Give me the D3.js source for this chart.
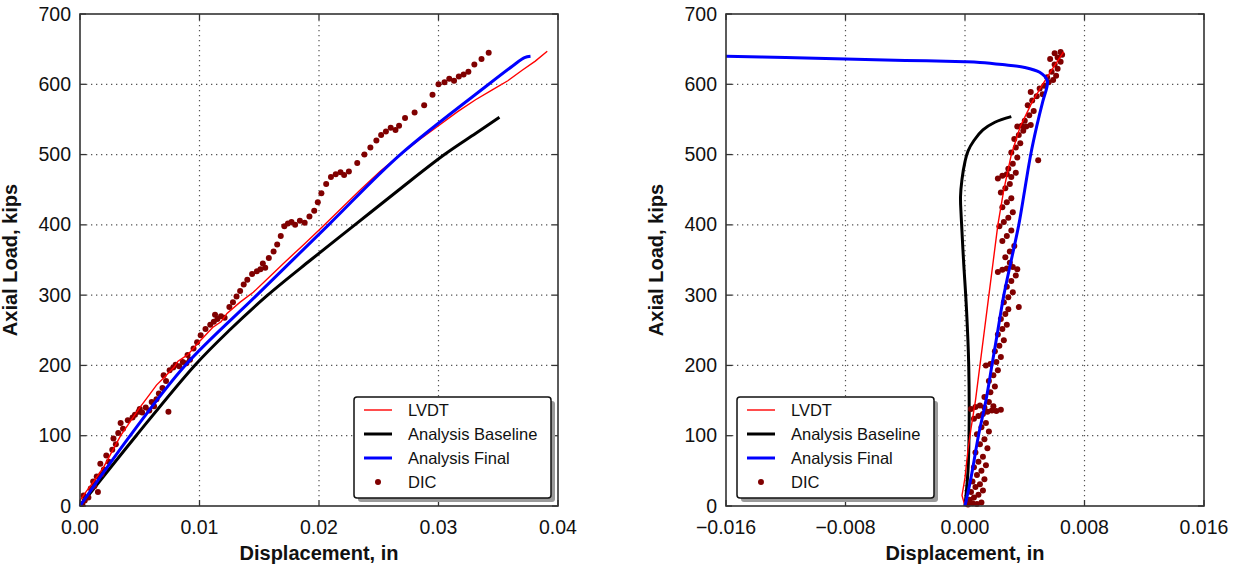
<!DOCTYPE html>
<html lang="en">
  <head>
    <meta charset="utf-8" />
    <title>Axial load vs displacement</title>
    <script src="https://cdnjs.cloudflare.com/ajax/libs/d3/7.8.5/d3.min.js"></script>
    <style>
      body { margin: 0; background: #fff; }
      svg { font-family: "Liberation Sans", Arial, sans-serif; }
      .grid line { stroke: #555; stroke-width: 1.2; stroke-dasharray: 1.3, 3.7; }
      .tick-lbl { font-size: 19.5px; fill: #111; }
      .axis-title { font-size: 20px; font-weight: bold; fill: #111; }
      .legend text { font-size: 16.5px; fill: #111; }
    </style>
  </head>
  <body>
    <script>
      // ---- data (displacement in inches, axial load in kips) ----
      const yTicks = [0, 100, 200, 300, 400, 500, 600, 700];
      const leftXTicks = [0, 0.01, 0.02, 0.03, 0.04];
      const rightXTicks = [-0.016, -0.008, 0, 0.008, 0.016];
      const seriesNames = ["LVDT", "Analysis Baseline", "Analysis Final", "DIC"];

      const leftLVDT = [[0,8],[0.0005,20],[0.0012,36],[0.0020,56],[0.0027,78],[0.0034,100],[0.0042,120],[0.0050,140],
        [0.0058,158],[0.0064,172],[0.0071,184],[0.0079,198],[0.0082,206],[0.0090,215],[0.0100,234],[0.0111,254],
        [0.0118,262],[0.0123,274],[0.0134,290],[0.0145,304],[0.0158,325],[0.0172,348],[0.0188,373],[0.0204,399],
        [0.0219,424],[0.0234,449],[0.0251,476],[0.0268,500],[0.0284,521],[0.0300,541],[0.0316,561],[0.0331,578],
        [0.0345,592],[0.0358,605],[0.0370,620],[0.0381,633],[0.0391,647]];
      const leftBaseline = [[0,0],[0.0047,100],[0.0096,200],[0.0125,250],[0.0157,300],[0.0193,350],[0.0230,400],
        [0.0267,450],[0.0305,500],[0.0331,530],[0.0351,553]];
      const leftFinal = [[0,0],[0.0042,100],[0.0088,200],[0.0148,300],[0.0208,400],[0.0268,500],[0.0342,600],
        [0.0362,626],[0.0372,638],[0.0377,640]];
      const leftDIC = [[0.0002,3],[0.0004,8],[0.0003,15],[0.0007,12],[0.0009,25],[0.0012,28],[0.0015,20],[0.0011,35],
        [0.0014,42],[0.0018,45],[0.0020,52],[0.0017,60],[0.0024,63],[0.0022,72],[0.0027,80],[0.0030,88],[0.0028,96],
        [0.0032,104],[0.0036,110],[0.0034,118],[0.0040,122],[0.0044,126],[0.0046,130],[0.0049,134],[0.0052,133],
        [0.0050,138],[0.0055,140],[0.0058,136],[0.0062,142],[0.0060,148],[0.0064,152],[0.0074,134],[0.0066,160],
        [0.0069,168],[0.0072,178],[0.0070,186],[0.0075,193],[0.0078,197],[0.0080,201],[0.0083,199],[0.0086,205],
        [0.0089,203],[0.0092,208],[0.0090,215],[0.0095,224],[0.0098,233],[0.0101,243],[0.0105,252],[0.0109,258],
        [0.0112,262],[0.0115,266],[0.0118,270],[0.0121,268],[0.0113,272],[0.0125,283],[0.0128,290],[0.0131,298],
        [0.0134,306],[0.0137,315],[0.0140,322],[0.0144,330],[0.0148,334],[0.0151,337],[0.0155,339],[0.0153,345],
        [0.0158,353],[0.0162,362],[0.0165,372],[0.0168,384],[0.0171,398],[0.0174,402],[0.0177,404],[0.0180,400],
        [0.0184,406],[0.0188,403],[0.0192,412],[0.0196,420],[0.0199,432],[0.0202,445],[0.0206,458],[0.0210,468],
        [0.0214,472],[0.0218,475],[0.0221,471],[0.0225,476],[0.0232,488],[0.0238,500],[0.0243,510],[0.0248,520],
        [0.0252,528],[0.0256,533],[0.0260,538],[0.0264,535],[0.0267,541],[0.0272,552],[0.0280,560],[0.0288,570],
        [0.0295,585],[0.0300,600],[0.0305,603],[0.0309,608],[0.0313,605],[0.0317,611],[0.0321,614],[0.0325,618],
        [0.0330,628],[0.0336,636],[0.0342,645]];

      const rightLVDT = [[0,0],[-0.0002,15],[0,40],[0.0002,80],[0.0004,110],[0.0007,150],[0.0010,200],[0.0013,250],
        [0.0016,300],[0.0019,350],[0.0022,400],[0.0026,450],[0.0031,500],[0.0037,540],[0.0045,575],[0.0052,600],
        [0.0058,620],[0.0066,646]];
      const rightBaseline = [[0,0],[0.0002,50],[0.00027,100],[0.00025,200],[0.0001,280],[-0.0001,350],[-0.00025,410],
        [-0.0003,440],[-0.0002,465],[0,490],[0.0002,505],[0.0006,520],[0.0012,535],[0.0020,546],[0.0031,554]];
      const rightFinal = [[0,0],[0.0004,40],[0.0009,100],[0.0014,150],[0.0018,200],[0.0022,250],[0.0026,300],
        [0.0031,350],[0.0036,400],[0.0040,450],[0.0044,500],[0.0048,540],[0.0052,575],[0.0055,598],[0.0055,606],
        [0.0050,617],[0.0040,624],[0.0025,628],[0.0010,631],[0,632],[-0.004,634],[-0.008,636],[-0.012,638],[-0.016,640]];
      const rightDIC = [[0.0002,2],[0.0005,4],[0.0008,3],[0.0011,5],[0.0003,9],[0.0006,12],[0.0009,16],[0.0004,20],
        [0.0012,22],[0.0007,27],[0.0010,31],[0.0005,35],[0.0013,38],[0.0008,44],[0.0011,50],[0.0006,55],[0.0014,58],
        [0.0009,63],[0.0012,70],[0.0007,76],[0.0015,82],[0.0010,88],[0.0013,95],[0.0008,102],[0.0016,106],[0.0011,112],
        [0.0014,118],[0.0006,124],[0.0009,128],[0.0012,131],[0.0015,134],[0.0018,136],[0.0021,135],[0.0024,137],
        [0.0004,138],[0.0007,141],[0.0010,143],[0.0013,140],[0.0019,142],[0.0016,148],[0.0013,155],[0.0017,162],
        [0.0020,170],[0.0016,178],[0.0019,186],[0.0022,193],[0.0014,200],[0.0017,202],[0.0021,205],[0.0024,212],
        [0.0020,220],[0.0023,228],[0.0026,236],[0.0022,244],[0.0025,252],[0.0028,258],[0.0024,266],[0.0027,273],
        [0.0036,283],[0.0029,280],[0.0026,290],[0.0029,297],[0.0032,304],[0.0028,312],[0.0031,320],[0.0034,328],
        [0.0022,333],[0.0025,336],[0.0028,338],[0.0032,340],[0.0035,337],[0.0030,346],[0.0027,354],[0.0030,362],
        [0.0033,370],[0.0025,377],[0.0028,384],[0.0031,392],[0.0023,398],[0.0026,404],[0.0029,410],[0.0032,418],
        [0.0025,425],[0.0028,432],[0.0031,438],[0.0024,446],[0.0027,452],[0.0030,458],[0.0022,466],[0.0025,470],
        [0.0028,472],[0.0031,468],[0.0034,474],[0.0029,480],[0.0032,487],[0.0049,492],[0.0035,496],[0.0031,503],
        [0.0034,510],[0.0037,516],[0.0033,522],[0.0036,528],[0.0039,534],[0.0035,540],[0.0038,541],[0.0041,540],
        [0.0044,542],[0.0040,548],[0.0043,556],[0.0046,562],[0.0042,570],[0.0045,577],[0.0048,583],[0.0044,589],
        [0.0052,586],[0.0050,594],[0.0053,598],[0.0056,603],[0.0059,606],[0.0055,610],[0.0061,612],[0.0058,618],
        [0.0062,622],[0.0060,628],[0.0064,632],[0.0057,636],[0.0062,638],[0.0065,642],[0.0060,644],[0.0064,646]];

      const width = 1237;
      const height = 567;
      const plotTop = 14, plotBottom = 506;

      const svg = d3.select("body").append("svg")
        .attr("width", width)
        .attr("height", height)
        .attr("viewBox", [0, 0, width, height]);

      function drawPanel(p) {
        const x = d3.scaleLinear().domain(p.xDomain).range([p.left, p.right]);
        const y = d3.scaleLinear().domain([0, 700]).range([plotBottom, plotTop]);
        const g = svg.append("g");

        // dotted grid
        const grid = g.append("g").attr("class", "grid");
        grid.selectAll(".gx").data(p.xTicks.slice(1, -1)).join("line")
          .attr("class", "gx")
          .attr("x1", d => x(d)).attr("x2", d => x(d))
          .attr("y1", plotTop + 6).attr("y2", plotBottom - 6);
        grid.selectAll(".gy").data(yTicks.slice(1, -1)).join("line")
          .attr("class", "gy")
          .attr("x1", p.left + 6).attr("x2", p.right - 6)
          .attr("y1", d => y(d)).attr("y2", d => y(d));

        // inward ticks on all four sides
        const tk = g.append("g").attr("stroke", "#333").attr("stroke-width", 1.3);
        p.xTicks.forEach(d => {
          tk.append("line").attr("x1", x(d)).attr("x2", x(d)).attr("y1", plotBottom).attr("y2", plotBottom - 6);
          tk.append("line").attr("x1", x(d)).attr("x2", x(d)).attr("y1", plotTop).attr("y2", plotTop + 6);
        });
        yTicks.forEach(d => {
          tk.append("line").attr("x1", p.left).attr("x2", p.left + 6).attr("y1", y(d)).attr("y2", y(d));
          tk.append("line").attr("x1", p.right).attr("x2", p.right - 6).attr("y1", y(d)).attr("y2", y(d));
        });

        // data
        const plot = g.append("g");
        const line = d3.line().x(d => x(d[0])).y(d => y(d[1]));
        plot.append("path").datum(p.baseline)
          .attr("fill", "none").attr("stroke", "#000").attr("stroke-width", 3)
          .attr("d", line.curve(d3.curveCatmullRom));
        plot.selectAll(".dic").data(p.dic).join("circle")
          .attr("class", "dic")
          .attr("cx", d => x(d[0])).attr("cy", d => y(d[1])).attr("r", 3)
          .attr("fill", "#800000");
        plot.append("path").datum(p.lvdt)
          .attr("fill", "none").attr("stroke", "#ff0000").attr("stroke-width", 1.4)
          .attr("d", line.curve(d3.curveLinear));
        plot.append("path").datum(p.final)
          .attr("fill", "none").attr("stroke", "#0000ff").attr("stroke-width", 3)
          .attr("d", line.curve(d3.curveCatmullRom));

        // frame
        g.append("rect")
          .attr("x", p.left).attr("y", plotTop)
          .attr("width", p.right - p.left).attr("height", plotBottom - plotTop)
          .attr("fill", "none").attr("stroke", "#333").attr("stroke-width", 1.6);

        // tick labels
        g.selectAll(".xl").data(p.xTicks).join("text")
          .attr("class", "tick-lbl xl")
          .attr("x", d => x(d)).attr("y", plotBottom + 28)
          .attr("text-anchor", "middle")
          .text(p.fmt);
        g.selectAll(".yl").data(yTicks).join("text")
          .attr("class", "tick-lbl yl")
          .attr("x", p.left - 9).attr("y", d => y(d) + 6.5)
          .attr("text-anchor", "end")
          .text(d => d);

        // axis titles
        g.append("text").attr("class", "axis-title")
          .attr("x", (p.left + p.right) / 2).attr("y", 560)
          .attr("text-anchor", "middle")
          .text("Displacement, in");
        g.append("text").attr("class", "axis-title")
          .attr("transform", `translate(${p.left - 63},${(plotTop + plotBottom) / 2}) rotate(-90)`)
          .attr("text-anchor", "middle")
          .text("Axial Load, kips");

        // legend with drop shadow
        const lg = g.append("g").attr("class", "legend")
          .attr("transform", `translate(${p.legendX},397)`);
        lg.append("rect").attr("x", 4).attr("y", 4).attr("width", 197).attr("height", 101)
          .attr("rx", 3).attr("fill", "#9a9a9a");
        lg.append("rect").attr("width", 197).attr("height", 101).attr("rx", 3)
          .attr("fill", "#fff").attr("stroke", "#111").attr("stroke-width", 1.5);
        const styles = [
          { c: "#ff0000", w: 1.4 },
          { c: "#000", w: 3 },
          { c: "#0000ff", w: 3 },
          { c: "#800000", dot: true }
        ];
        seriesNames.forEach((name, i) => {
          const cy = 13 + i * 24;
          if (styles[i].dot) {
            lg.append("circle").attr("cx", 24).attr("cy", cy).attr("r", 3).attr("fill", styles[i].c);
          } else {
            lg.append("line").attr("x1", 10).attr("x2", 38).attr("y1", cy).attr("y2", cy)
              .attr("stroke", styles[i].c).attr("stroke-width", styles[i].w);
          }
          lg.append("text").attr("x", 54).attr("y", cy + 6).text(name);
        });
      }

      drawPanel({
        left: 80, right: 558, xDomain: [0, 0.04], xTicks: leftXTicks, fmt: d3.format(".2f"),
        lvdt: leftLVDT, baseline: leftBaseline, final: leftFinal, dic: leftDIC, legendX: 354
      });
      drawPanel({
        left: 726, right: 1204, xDomain: [-0.016, 0.016], xTicks: rightXTicks, fmt: d3.format(".3f"),
        lvdt: rightLVDT, baseline: rightBaseline, final: rightFinal, dic: rightDIC, legendX: 737
      });
    </script>
  </body>
</html>
